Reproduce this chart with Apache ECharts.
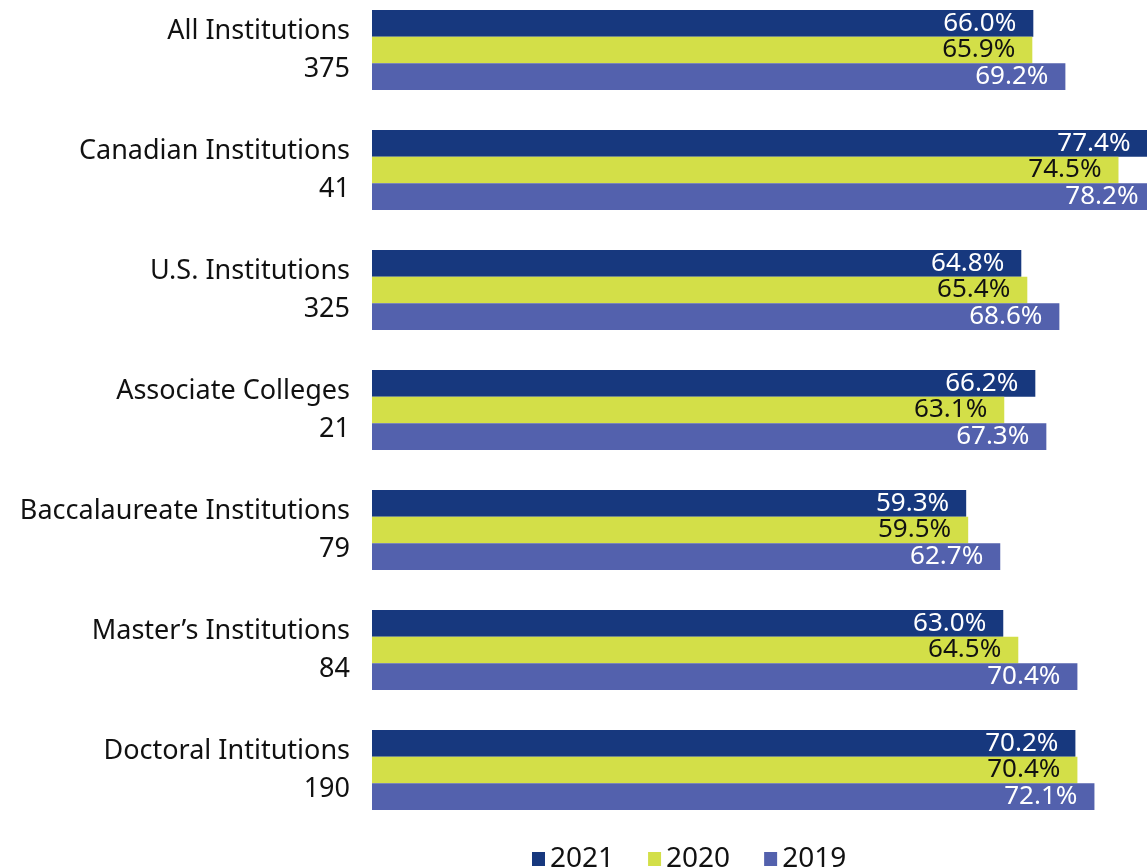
<!DOCTYPE html>
<html>
<head>
<meta charset="utf-8">
<script src="https://cdn.jsdelivr.net/npm/echarts@6/dist/echarts.min.js"></script>
<style>
  html, body { margin: 0; padding: 0; background: #fff; }
  #chart { width: 1147px; height: 867px; }
</style>
</head>
<body>
<div id="chart"></div>
<script>
// categories (name + institution count)
var categories = ['All Institutions', 'Canadian Institutions', 'U.S. Institutions', 'Associate Colleges',
  'Baccalaureate Institutions', 'Master\u2019s Institutions', 'Doctoral Intitutions']
var counts = ['375', '41', '325', '21', '79', '84', '190']

// percentages by year
var years = ['2021', '2020', '2019']
var data2021 = [66.0, 77.4, 64.8, 66.2, 59.3, 63.0, 70.2]
var data2020 = [65.9, 74.5, 65.4, 63.1, 59.5, 64.5, 70.4]
var data2019 = [69.2, 78.2, 68.6, 67.3, 62.7, 70.4, 72.1]

var colors = ['#17387e', '#d3df48', '#5361ad']
var labelColors = ['#ffffff', '#111111', '#ffffff']
var font = 'Noto Sans'

var yLabels = categories.map(function (c, i) { return c + '\n' + counts[i] })

function makeSeries (name, values, idx) {
  return {
    name: name,
    type: 'bar',
    data: values,
    barGap: 0,
    barCategoryGap: '33.3%',
    itemStyle: { color: colors[idx] },
    label: {
      show: true,
      position: 'insideRight',
      distance: 17,
      color: labelColors[idx],
      fontFamily: font,
      fontSize: 26,
      formatter: function (p) { return p.value.toFixed(1) + '%' }
    }
  }
}

var myChart = echarts.init(document.getElementById('chart'))
myChart.setOption({
  animation: false,
  color: colors,
  grid: {
    left: 372,
    top: -10,
    height: 840,
    width: 801.6,
    outerBoundsMode: 'none'
  },
  legend: {
    data: years,
    left: 532,
    top: 845,
    padding: 0,
    itemWidth: 13,
    itemHeight: 14,
    itemGap: 34,
    icon: 'rect',
    textStyle: { fontFamily: font, fontSize: 28, color: '#111' }
  },
  xAxis: {
    type: 'value',
    min: 0,
    max: 80,
    show: false
  },
  yAxis: {
    type: 'category',
    inverse: true,
    data: yLabels,
    axisLine: { show: false },
    axisTick: { show: false },
    axisLabel: {
      margin: 22,
      align: 'right',
      fontFamily: font,
      fontSize: 27,
      lineHeight: 38,
      color: '#111'
    }
  },
  series: [
    makeSeries(years[0], data2021, 0),
    makeSeries(years[1], data2020, 1),
    makeSeries(years[2], data2019, 2)
  ]
}, true)
</script>
</body>
</html>
